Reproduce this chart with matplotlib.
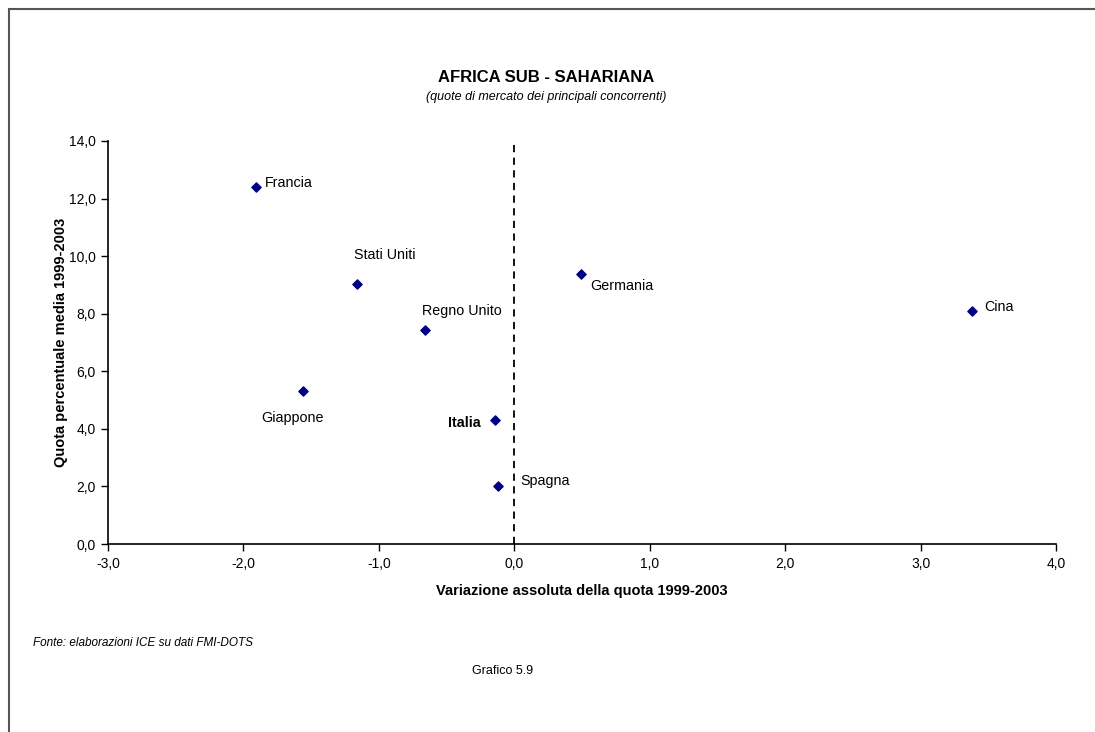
import matplotlib
matplotlib.use("Agg")
import matplotlib.pyplot as plt
from matplotlib.ticker import FuncFormatter, MultipleLocator
from matplotlib.patches import Rectangle

plt.rcParams['font.family'] = ['Liberation Sans', 'DejaVu Sans']

countries = ["Francia", "Stati Uniti", "Regno Unito", "Giappone", "Italia", "Spagna", "Germania", "Cina"]
variazione = [-1.91, -1.16, -0.66, -1.56, -0.14, -0.12, 0.49, 3.38]
quota = [12.40, 9.03, 7.42, 5.33, 4.32, 2.01, 9.39, 8.11]
# label offsets in pixels (dx, dy), horizontal alignment
label_pos = {
    "Francia": (9, 4, 'left'),
    "Stati Uniti": (-3, 29, 'left'),
    "Regno Unito": (-3, 19, 'left'),
    "Giappone": (-42, -27, 'left'),
    "Italia": (-15, -3, 'right'),
    "Spagna": (22, 5, 'left'),
    "Germania": (10, -12, 'left'),
    "Cina": (12, 4, 'left'),
}

fig = plt.figure(figsize=(10.95, 7.32), dpi=100)
fig.patches.append(Rectangle((9/1095, -0.1), 1.2, 1 - 9/732 + 0.1, transform=fig.transFigure,
                             fill=False, edgecolor='#555555', linewidth=1.5))
ax = fig.add_axes([108/1095, 1 - 544/732, (1056 - 108)/1095, (544 - 141)/732])

ax.scatter(variazione, quota, marker='D', s=22, color='#000080', zorder=3)
ax.axvline(0, color='black', linestyle=(0, (4, 3)), linewidth=1.3, zorder=2)

for name, x, y in zip(countries, variazione, quota):
    dx, dy, ha = label_pos[name]
    ax.annotate(name, (x, y), xytext=(dx, dy), textcoords='offset pixels',
                ha=ha, va='center', fontsize=10.3,
                fontweight='bold' if name == "Italia" else 'normal')

ax.set_xlim(-3, 4)
ax.set_ylim(0, 14)
ax.xaxis.set_major_locator(MultipleLocator(1))
ax.yaxis.set_major_locator(MultipleLocator(2))
fmt = FuncFormatter(lambda v, p: f"{v:.1f}".replace('.', ','))
ax.xaxis.set_major_formatter(fmt)
ax.yaxis.set_major_formatter(fmt)
ax.tick_params(direction='out', length=5, width=1, labelsize=10, pad=4)
for s in ['top', 'right']:
    ax.spines[s].set_visible(False)
for s in ['left', 'bottom']:
    ax.spines[s].set_linewidth(1.2)

ax.set_xlabel("Variazione assoluta della quota 1999-2003", fontsize=10.5, fontweight='bold', labelpad=10)
ax.set_ylabel("Quota percentuale media 1999-2003", fontsize=10.5, fontweight='bold', labelpad=0)

fig.text(546/1095, 1 - 77/732, "AFRICA SUB - SAHARIANA", ha='center', va='center',
         fontsize=12, fontweight='bold')
fig.text(546/1095, 1 - 97/732, "(quote di mercato dei principali concorrenti)", ha='center', va='center',
         fontsize=9, style='italic')
fig.text(33/1095, 1 - 643/732, "Fonte: elaborazioni ICE su dati FMI-DOTS", ha='left', va='center',
         fontsize=8.5, style='italic')
fig.text(503/1095, 1 - 671/732, "Grafico 5.9", ha='center', va='center', fontsize=9)

fig.savefig("out.png", dpi=100)
